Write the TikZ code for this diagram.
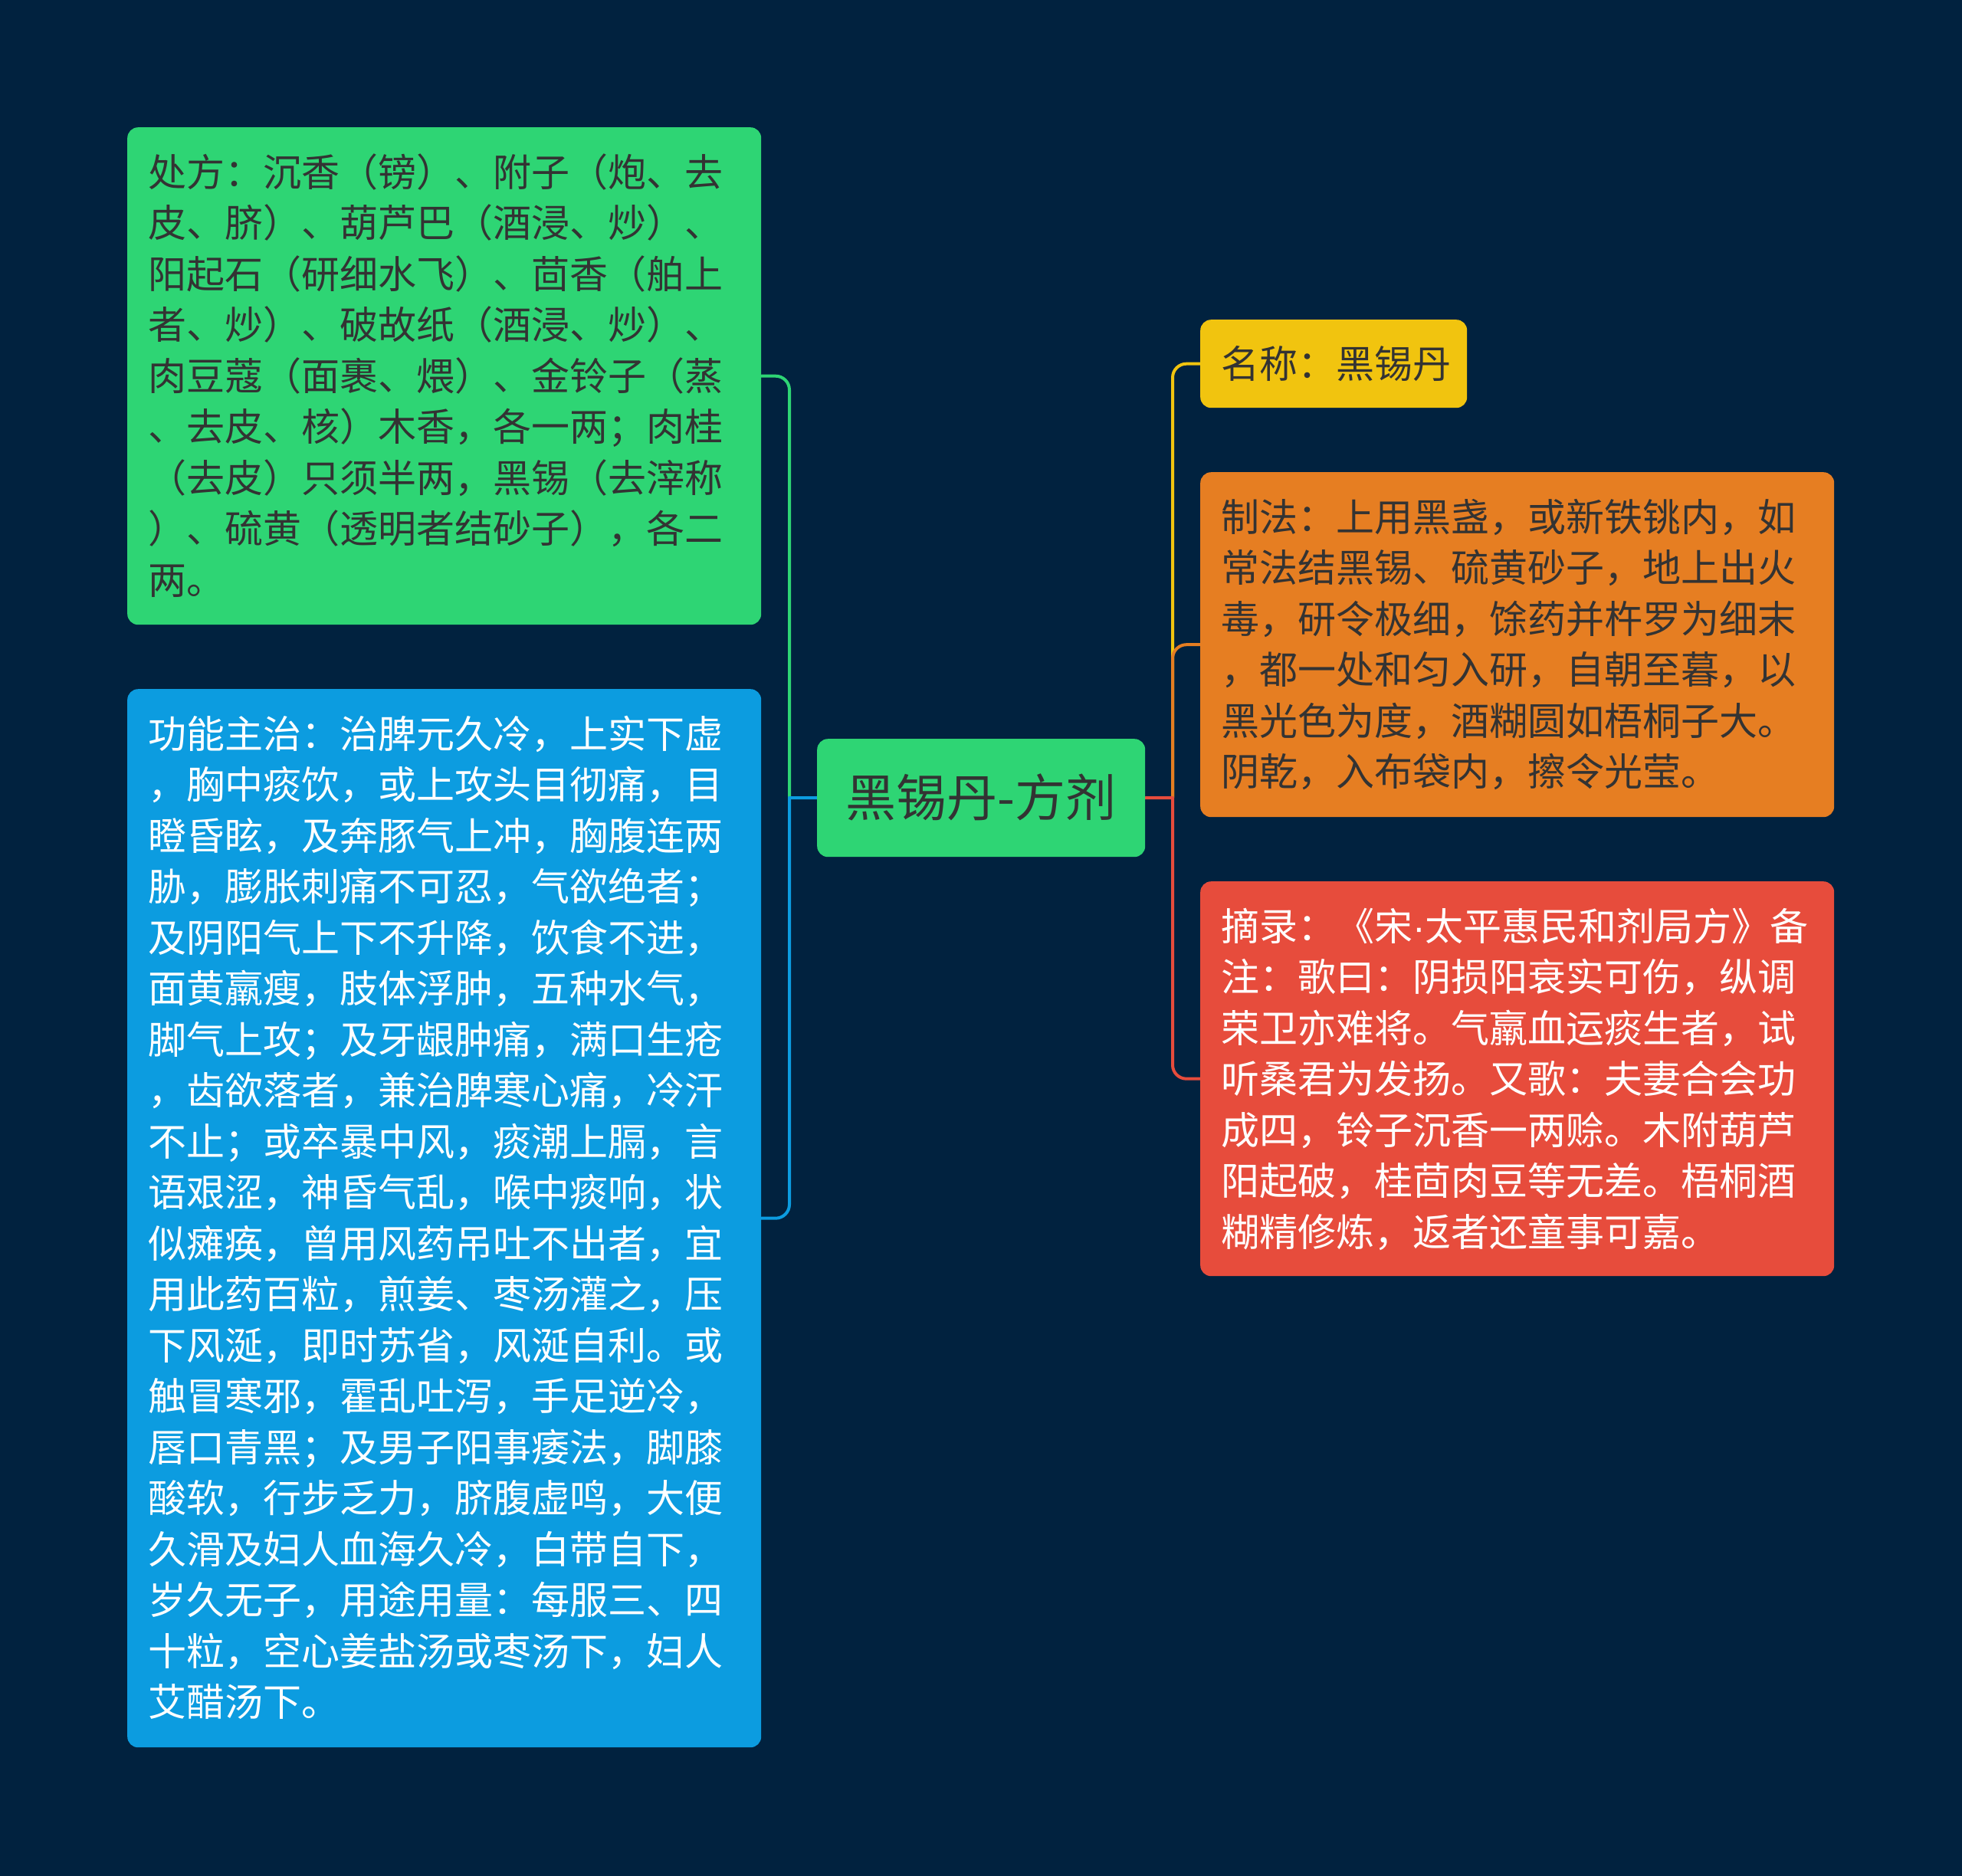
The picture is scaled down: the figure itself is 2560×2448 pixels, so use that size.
\documentclass[tikz,border=0pt]{standalone}
\usepackage{fontspec}
\newfontfamily\cjk{Noto Sans CJK SC}
\newfontfamily\latinfont{Liberation Sans}
\definecolor{bgcol}{HTML}{01223F}
\definecolor{gcol}{HTML}{2ED574}
\definecolor{bcol}{HTML}{0C9CE0}
\definecolor{ycol}{HTML}{F1C40F}
\definecolor{ocol}{HTML}{E67E22}
\definecolor{rcol}{HTML}{E74C3C}
\definecolor{dtext}{HTML}{333333}
\pgfdeclarelayer{bg}
\pgfdeclarelayer{lines}
\pgfsetlayers{bg,lines,main}
\begin{document}
\begin{tikzpicture}[x=1pt,y=-1pt,
  box/.style={rectangle, rounded corners=14pt, inner sep=0pt, anchor=north west},
  txt/.style={font=\cjk\fontsize{50}{66.5}\selectfont, align=left, inner sep=0pt, anchor=north west},
  conn/.style={line width=4pt, line cap=round, rounded corners=18pt}]
\begin{pgfonlayer}{bg}
\fill[bgcol] (0,0) rectangle (2560,2448);
\end{pgfonlayer}
\useasboundingbox (0,0) rectangle (2560,2448);

% boxes
\node[box, fill=gcol, minimum width=827pt, minimum height=649pt] (g) at (166,166) {};
\node[box, fill=bcol, minimum width=827pt, minimum height=1381pt] (b) at (166,899) {};
\node[box, fill=gcol, minimum width=428pt, minimum height=154pt] (c) at (1066,964) {};
\node[box, fill=ycol, minimum width=348pt, minimum height=115pt] (nm) at (1566,417) {};
\node[box, fill=ocol, minimum width=827pt, minimum height=450pt] (o) at (1566,616) {};
\node[box, fill=rcol, minimum width=827pt, minimum height=515pt] (r) at (1566,1150) {};

% texts
\node[txt, text=dtext] (gt) at (193,193) {\rule{0pt}{50pt}处方：沉香（镑）、附子（炮、去\\
皮、脐）、葫芦巴（酒浸、炒）、\\
阳起石（研细水飞）、茴香（舶上\\
者、炒）、破故纸（酒浸、炒）、\\
肉豆蔻（面裹、煨）、金铃子（蒸\\
、去皮、核）木香，各一两；肉桂\\
（去皮）只须半两，黑锡（去滓称\\
）、硫黄（透明者结砂子），各二\\
两。};

\node[txt, text=white] (bt) at (193,926) {\rule{0pt}{50pt}功能主治：治脾元久冷，上实下虚\\
，胸中痰饮，或上攻头目彻痛，目\\
瞪昏眩，及奔豚气上冲，胸腹连两\\
胁，膨胀刺痛不可忍，气欲绝者；\\
及阴阳气上下不升降，饮食不进，\\
面黄羸瘦，肢体浮肿，五种水气，\\
脚气上攻；及牙龈肿痛，满口生疮\\
，齿欲落者，兼治脾寒心痛，冷汗\\
不止；或卒暴中风，痰潮上膈，言\\
语艰涩，神昏气乱，喉中痰响，状\\
似瘫痪，曾用风药吊吐不出者，宜\\
用此药百粒，煎姜、枣汤灌之，压\\
下风涎，即时苏省，风涎自利。或\\
触冒寒邪，霍乱吐泻，手足逆冷，\\
唇口青黑；及男子阳事痿法，脚膝\\
酸软，行步乏力，脐腹虚鸣，大便\\
久滑及妇人血海久冷，白带自下，\\
岁久无子，用途用量：每服三、四\\
十粒，空心姜盐汤或枣汤下，妇人\\
艾醋汤下。};

\node[font=\cjk\fontsize{66}{80}\selectfont, text=dtext, inner sep=0pt, anchor=base] (ct) at (1280,1065) {黑锡丹-方剂};

\node[font=\cjk\fontsize{50}{66.5}\selectfont, text=dtext, inner sep=0pt, anchor=base west] (nmt) at (1593,493) {名称：黑锡丹};

\node[txt, text=dtext] (ot) at (1593,643) {\rule{0pt}{50pt}制法：上用黑盏，或新铁铫内，如\\
常法结黑锡、硫黄砂子，地上出火\\
毒，研令极细，馀药并杵罗为细末\\
，都一处和匀入研，自朝至暮，以\\
黑光色为度，酒糊圆如梧桐子大。\\
阴乾，入布袋内，擦令光莹。};

\node[txt, text=white] (rt) at (1593,1177) {\rule{0pt}{50pt}摘录：《宋{\latinfont ·}太平惠民和剂局方》备\\
注：歌曰：阴损阳衰实可伤，纵调\\
荣卫亦难将。气羸血运痰生者，试\\
听桑君为发扬。又歌：夫妻合会功\\
成四，铃子沉香一两赊。木附葫芦\\
阳起破，桂茴肉豆等无差。梧桐酒\\
糊精修炼，返者还童事可嘉。};

% connectors
\coordinate (jl) at (1030,1041);
\coordinate (jr) at (1530,1041);
\begin{pgfonlayer}{lines}
\draw[conn, gcol] (jl) |- (g.east);
\draw[conn, bcol] (jl) |- (b.east);
\draw[conn, bcol] (c.west) -- (jl);
\draw[conn, ycol] (jr) |- (nm.west);
\draw[conn, ocol] (jr) |- (o.west);
\draw[conn, rcol] (jr) |- (r.west);
\draw[conn, rcol] (c.east) -- (jr);
\end{pgfonlayer}
\end{tikzpicture}
\end{document}
